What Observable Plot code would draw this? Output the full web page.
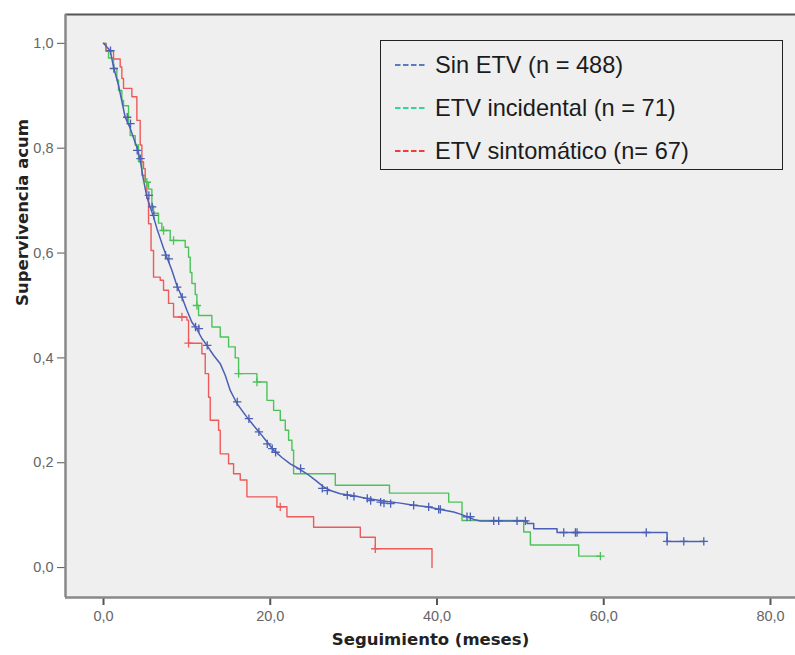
<!DOCTYPE html>
<html>
<head>
<meta charset="utf-8">
<script src="https://cdn.jsdelivr.net/npm/d3@7"></script>
<script src="https://cdn.jsdelivr.net/npm/@observablehq/plot@0.6"></script>
<style>
  body { margin: 0; background: white; }
  #wrap { position: relative; width: 795px; height: 655px; }
  #legend { position: absolute; left: 380px; top: 40px; width: 401px; height: 128px;
    border: 1.8px solid #222; background: #efefef; font-family: "Liberation Sans", Arial, sans-serif;
    font-size: 23.6px; color: #1c1c1c; }
  .row { position: absolute; left: 14px; height: 30px; display: flex; align-items: center; }
  .row svg { margin-right: 8px; }
</style>
</head>
<body>
<div id="wrap"></div>
<script>
// ---------- data ----------
const groups = ["Sin ETV (n = 488)", "ETV incidental (n = 71)", "ETV sintomático (n= 67)"];
const lineColors = ["#4a5fb5", "#4cc35a", "#ee5a5a"];
const legendColors = ["#5b7bbf", "#2fd6a0", "#f53a3a"];

// Sin ETV: traced vertices (months, cumulative survival)
const sinT = [0, 0.8, 1.2, 1.8, 2.6, 3.2, 4.0, 4.4, 4.8, 5.2, 5.6, 6.0, 6.4, 6.8, 7.2, 7.6, 8.2, 8.8, 9.4, 10.0, 10.6, 11.2, 11.8, 12.4, 13.2, 14.0, 14.6, 15.2, 16.0, 16.6, 17.2, 18.0, 18.8, 19.6, 20.4, 21.4, 22.4, 23.4, 24.4, 25.4, 26.4, 27.4, 28.4, 30.0, 31.6, 33.6, 35.6, 37.2, 38.8, 40.4, 42.0, 42.8, 43.6, 44.4, 45.2, 50.8, 50.8, 51.6, 51.6, 54.4, 54.4, 67.6, 67.6, 72.0];
const sinS = [1.0, 0.986, 0.955, 0.92, 0.859, 0.838, 0.802, 0.777, 0.739, 0.707, 0.688, 0.669, 0.647, 0.628, 0.609, 0.592, 0.567, 0.538, 0.516, 0.491, 0.468, 0.455, 0.437, 0.424, 0.405, 0.389, 0.367, 0.338, 0.313, 0.300, 0.287, 0.271, 0.256, 0.240, 0.224, 0.210, 0.198, 0.189, 0.179, 0.167, 0.154, 0.146, 0.141, 0.137, 0.132, 0.127, 0.123, 0.119, 0.116, 0.111, 0.106, 0.102, 0.097, 0.092, 0.089, 0.089, 0.084, 0.084, 0.074, 0.074, 0.067, 0.067, 0.050, 0.050];
const sinCensT = [0.84, 1.24, 2.84, 3.24, 4.04, 4.44, 5.44, 5.84, 6.04, 7.44, 7.84, 8.84, 9.44, 11.04, 11.44, 12.44, 16.04, 17.44, 18.64, 19.64, 20.24, 20.64, 23.64, 26.24, 26.84, 29.24, 30.04, 31.64, 32.04, 33.24, 33.64, 34.44, 37.2, 39.0, 40.2, 40.4, 43.6, 44.0, 46.8, 47.4, 49.6, 50.6, 55.2, 56.6, 56.8, 65.1, 67.6, 69.6, 72.0];
const sinCensS = [0.986, 0.952, 0.859, 0.847, 0.796, 0.78, 0.71, 0.688, 0.672, 0.596, 0.589, 0.535, 0.516, 0.459, 0.456, 0.424, 0.316, 0.284, 0.259, 0.236, 0.227, 0.220, 0.189, 0.151, 0.147, 0.138, 0.136, 0.132, 0.128, 0.125, 0.123, 0.122, 0.119, 0.116, 0.111, 0.111, 0.097, 0.097, 0.089, 0.089, 0.089, 0.089, 0.067, 0.067, 0.067, 0.067, 0.050, 0.050, 0.050];

// ETV incidental: step values (survival after each time)
const incT = [0, 0.3, 0.6, 1.2, 1.6, 1.8, 2.2, 2.4, 3.0, 3.2, 3.8, 4.2, 4.6, 5.0, 5.4, 5.8, 6.0, 6.6, 7.0, 8.0, 9.8, 10.2, 10.4, 10.6, 11.0, 11.2, 11.4, 13.0, 14.0, 15.0, 15.8, 16.2, 18.4, 19.6, 20.4, 21.2, 21.8, 22.2, 22.6, 22.8, 27.8, 34.3, 41.4, 43.0, 50.4, 51.2, 57.0, 59.6];
const incS = [1.0, 0.986, 0.972, 0.952, 0.930, 0.910, 0.891, 0.881, 0.845, 0.824, 0.806, 0.774, 0.748, 0.735, 0.722, 0.690, 0.676, 0.657, 0.643, 0.624, 0.611, 0.592, 0.563, 0.542, 0.521, 0.500, 0.481, 0.459, 0.440, 0.421, 0.400, 0.370, 0.354, 0.319, 0.300, 0.281, 0.262, 0.243, 0.224, 0.179, 0.157, 0.142, 0.125, 0.090, 0.068, 0.043, 0.022, 0.022];
const incCensT = [5.2, 7.2, 8.4, 11.2, 16.2, 18.4, 59.6];
const incCensS = [0.735, 0.643, 0.624, 0.500, 0.370, 0.354, 0.022];

// ETV sintomático: step values
const sinoT = [0, 0.3, 1.2, 2.0, 2.2, 2.4, 3.4, 4.0, 4.4, 4.6, 4.8, 5.0, 5.2, 5.4, 5.7, 6.0, 6.8, 7.2, 7.8, 8.4, 10.0, 10.2, 11.8, 12.2, 12.6, 12.8, 13.8, 14.0, 15.0, 15.6, 16.4, 17.2, 20.8, 22.0, 25.2, 30.8, 32.6, 39.4];
const sinoS = [1.0, 0.985, 0.970, 0.955, 0.933, 0.914, 0.898, 0.853, 0.806, 0.774, 0.761, 0.735, 0.704, 0.656, 0.605, 0.554, 0.548, 0.529, 0.504, 0.478, 0.472, 0.428, 0.408, 0.370, 0.325, 0.281, 0.262, 0.217, 0.198, 0.179, 0.167, 0.135, 0.116, 0.097, 0.077, 0.058, 0.036, 0.0];
const sinoCensT = [9.4, 10.2, 21.2, 32.6];
const sinoCensS = [0.478, 0.428, 0.116, 0.036];

const xTicks = [0, 20, 40, 60, 80];
const yTicks = [0, 0.2, 0.4, 0.6, 0.8, 1.0];
const xDomain = [-4.56, 83.0];
const yDomain = [-0.057, 1.055];
const xTitle = "Seguimiento (meses)";
const yTitle = "Supervivencia acum";

// ---------- build ----------
const toRows = (T, S, g) => T.map((t, i) => ({t, s: S[i], g}));
const sinRows = toRows(sinT, sinS, groups[0]);
const incRows = toRows(incT, incS, groups[1]);
const sinoRows = toRows(sinoT, sinoS, groups[2]);
const cens = [
  ...toRows(sinCensT, sinCensS, groups[0]),
  ...toRows(incCensT, incCensS, groups[1]),
  ...toRows(sinoCensT, sinoCensS, groups[2])
];
const fmt = d => d.toFixed(1).replace(".", ",");
const colorOf = g => lineColors[groups.indexOf(g)];

const chart = Plot.plot({
  width: 795, height: 655,
  marginLeft: 65, marginRight: 0, marginTop: 14, marginBottom: 58,
  x: {domain: xDomain},
  y: {domain: yDomain},
  style: {fontFamily: "'Liberation Sans', Arial, sans-serif", fontSize: "14.5px", background: "white", overflow: "visible"},
  marks: [
    Plot.frame({fill: "#efefef", stroke: null}),
    Plot.axisY({ticks: yTicks, tickSize: 8, tickPadding: 4, tickFormat: fmt, label: null, stroke: "#555", fill: "#666"}),
    Plot.axisX({ticks: xTicks, tickSize: 8, tickPadding: 5, tickFormat: fmt, label: null, stroke: "#555", fill: "#666", strokeWidth: 2}),
    Plot.ruleY([yDomain[1]], {stroke: "#555", strokeWidth: 2}),
    Plot.ruleX([xDomain[0]], {stroke: "#888", strokeWidth: 2.5}),
    Plot.ruleY([yDomain[0]], {stroke: "#888", strokeWidth: 2.5}),
    Plot.line(incRows, {x: "t", y: "s", curve: "step-after", stroke: lineColors[1], strokeWidth: 1.4}),
    Plot.line(sinoRows, {x: "t", y: "s", curve: "step-after", stroke: lineColors[2], strokeWidth: 1.4}),
    Plot.line(sinRows, {x: "t", y: "s", curve: "linear", stroke: lineColors[0], strokeWidth: 1.5}),
    Plot.dot(cens, {x: "t", y: "s", symbol: "plus", r: 2.8, stroke: d => colorOf(d.g), strokeWidth: 1.3}),
    Plot.text([yTitle], {frameAnchor: "left", rotate: -90, dx: -43, fontWeight: "bold", fontSize: 16.5, fontFamily: "'DejaVu Sans', Verdana, sans-serif", fill: "#222"}),
    Plot.text([xTitle], {frameAnchor: "bottom", dy: 47, fontWeight: "bold", fontSize: 16.5, fontFamily: "'DejaVu Sans', Verdana, sans-serif", fill: "#222"})
  ]
});

const wrap = document.getElementById("wrap");
wrap.appendChild(chart);

// legend
const legend = document.createElement("div");
legend.id = "legend";
const rowTops = [9, 52, 95];
groups.forEach((g, i) => {
  const row = document.createElement("div");
  row.className = "row";
  row.style.top = rowTops[i] + "px";
  row.innerHTML = `<svg width="32" height="6"><line x1="0" y1="3" x2="30" y2="3" stroke="${legendColors[i]}" stroke-width="2.2" stroke-dasharray="5.5,2.5"/></svg><span>${g}</span>`;
  legend.appendChild(row);
});
wrap.appendChild(legend);
</script>
</body>
</html>
